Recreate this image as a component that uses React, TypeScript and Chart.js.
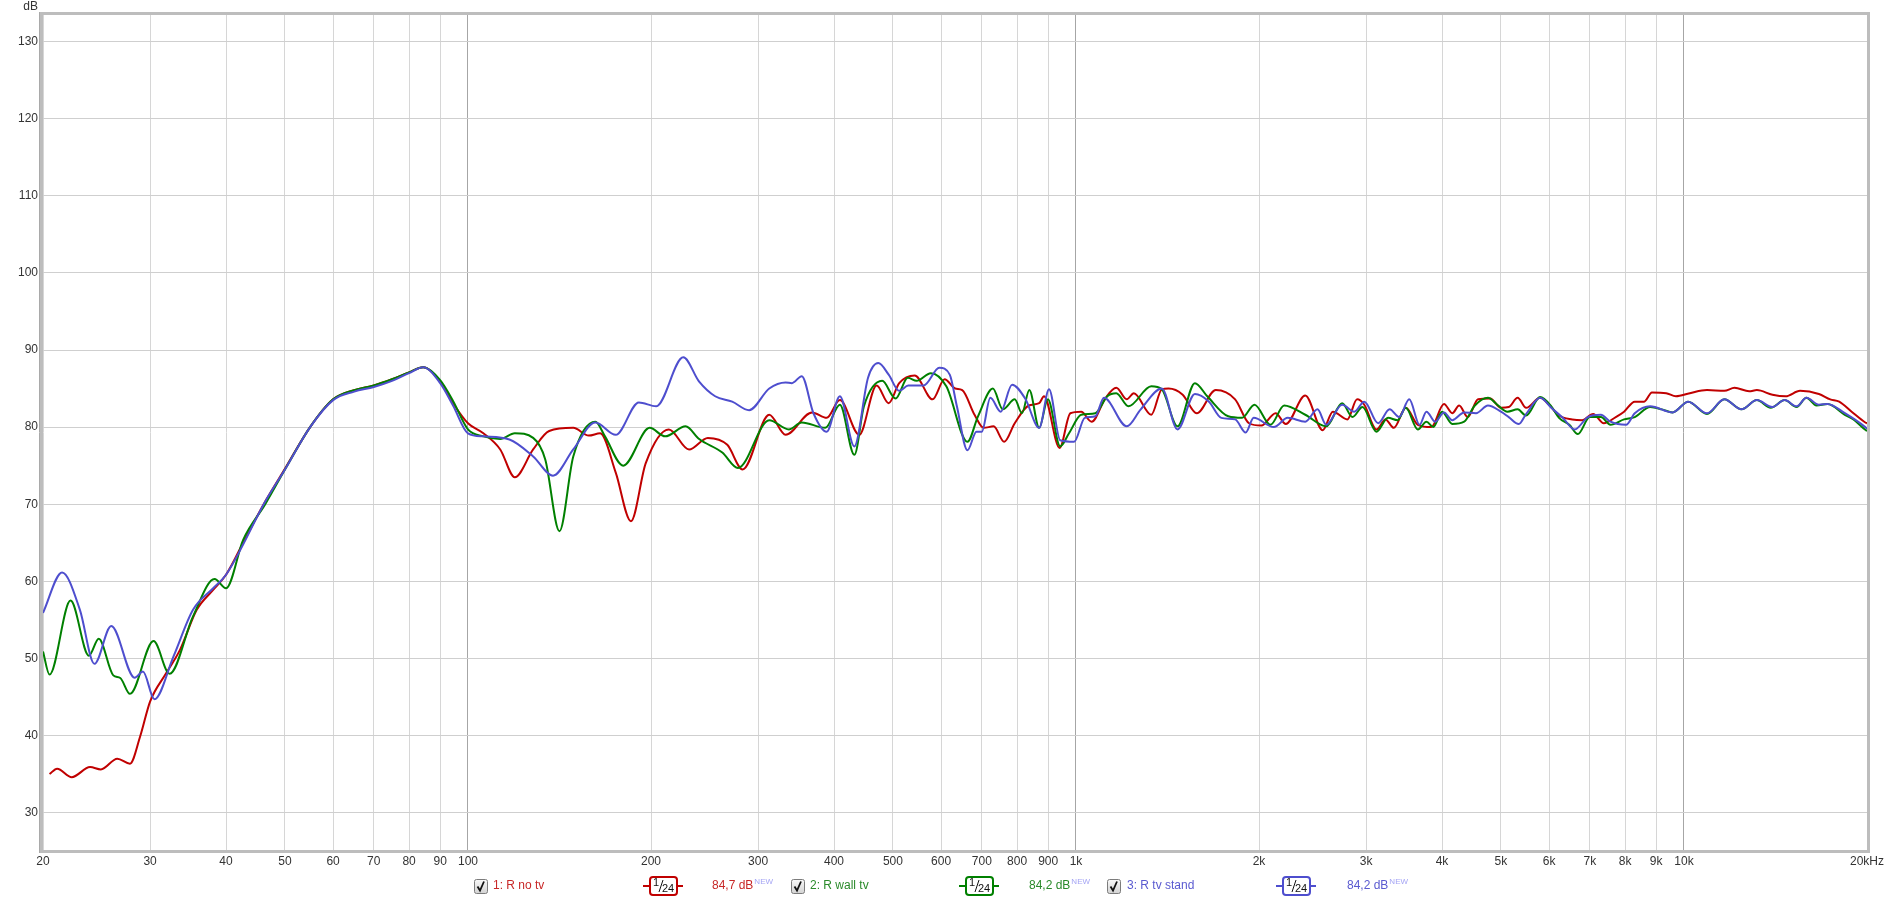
import React, { useEffect, useRef } from 'react';
import { Chart, registerables } from 'chart.js';

Chart.register(...registerables);

// [frequency Hz, level dB]
const redPoints: number[][] = [
  [20.5, 35.0], [21.1, 35.7], [22.3, 34.6], [23.9, 35.9], [24.9, 35.6], [26.5, 37.0], [27.8, 36.35], [28.9, 39.9],
  [30, 44.4], [31.9, 48.1], [33.6, 51.1], [35.8, 56.3], [38, 58.8], [40, 60.85], [43, 65.5], [46.6, 70.6],
  [50, 74.6], [55, 80.0], [60, 83.6], [65, 84.8], [70, 85.4], [75, 86.2], [80, 87.1], [84.4, 87.76],
  [90, 85.9], [94.5, 83.1], [100, 80.5], [106, 79.2], [113, 77.1], [119.4, 73.5], [128, 77.1], [136, 79.5],
  [149, 79.9], [158, 78.9], [165, 79.2], [175, 74.1], [185.4, 67.8], [196, 75.3], [214, 79.7], [231, 77.1],
  [248, 78.6], [267, 77.7], [283, 74.5], [313, 81.6], [333, 79.0], [368, 81.9], [389, 81.2], [409, 83.5],
  [440, 79.0], [470, 85.4], [492, 83.1], [512, 85.7], [543, 86.7], [581, 83.6], [608, 86.2], [633, 85.0],
  [650, 84.8], [681, 81.6], [705, 79.9], [732, 80.1], [762, 78.1], [793, 80.5], [836, 82.8], [870, 83.1],
  [886, 84.0], [940, 77.3], [979, 81.8], [1020, 82.0], [1061, 80.7], [1119, 83.8], [1165, 85.1], [1212, 83.6],
  [1245, 84.4], [1330, 81.6], [1384, 84.9], [1420, 85.0], [1498, 84.2], [1580, 81.8], [1698, 84.8], [1827, 83.6],
  [1926, 80.5], [2018, 80.2], [2130, 81.8], [2214, 80.4], [2383, 84.1], [2546, 79.6], [2646, 82.0], [2795, 81.0],
  [2900, 83.6], [2980, 82.9], [3120, 79.7], [3230, 81.0], [3332, 79.9], [3487, 82.5], [3650, 80.3], [3840, 80.0],
  [4030, 83.0], [4158, 81.8], [4268, 82.8], [4409, 81.3], [4585, 83.6], [4800, 83.7], [5000, 82.5], [5150, 82.6],
  [5327, 83.8], [5500, 82.5], [5800, 83.8], [6000, 82.9], [6230, 81.5], [6550, 81.0], [6800, 80.9], [7090, 81.7],
  [7380, 80.5], [7725, 81.3], [7970, 82.0], [8300, 83.3], [8600, 83.3], [8858, 84.5], [9350, 84.4], [9700, 84.0],
  [10224, 84.4], [10910, 84.8], [11650, 84.7], [12110, 85.1], [12800, 84.65], [13180, 84.8], [13980, 84.2], [14700, 84.0],
  [15520, 84.7], [16670, 84.3], [17400, 83.6], [18000, 83.3], [18870, 82.0], [19870, 80.6], [20000, 80.5],
];

const greenPoints: number[][] = [
  [20, 50.9], [20.5, 47.9], [22.2, 57.5], [23.8, 50.35], [24.7, 52.55], [26.1, 47.8], [26.8, 47.46], [27.8, 45.4],
  [30.4, 52.25], [32.3, 48.0], [35.3, 55.45], [38.3, 60.3], [40, 59.1], [42.7, 65.4], [46.4, 70.0], [50, 74.5],
  [55, 80.0], [60, 83.6], [65, 84.8], [70, 85.4], [75, 86.2], [80, 87.1], [84.4, 87.76], [90, 86.1],
  [94.5, 83.4], [100, 79.7], [106, 78.8], [113, 78.45], [119.4, 79.2], [128, 78.6], [134, 75.8], [141.4, 66.5],
  [149, 76.2], [162, 80.7], [168, 78.8], [180, 75.0], [199, 79.9], [211, 78.8], [228, 80.1], [240, 78.45],
  [262, 76.7], [278, 74.7], [313, 80.9], [337, 79.7], [354, 80.6], [387, 79.9], [409, 82.9], [432, 76.4],
  [448, 82.7], [480, 86.0], [505, 83.7], [529, 86.4], [547, 86.0], [577, 87.0], [612, 85.3], [663, 78.1],
  [690, 81.4], [730, 85.0], [758, 82.3], [793, 83.6], [815, 81.8], [838, 84.8], [870, 79.9], [899, 83.6],
  [942, 77.5], [974, 79.2], [1020, 81.6], [1076, 81.8], [1126, 84.0], [1165, 84.4], [1220, 82.7], [1330, 85.3],
  [1384, 84.9], [1469, 80.1], [1569, 85.7], [1644, 84.0], [1780, 81.4], [1876, 81.2], [1966, 82.9], [2089, 80.3],
  [2200, 82.8], [2383, 81.6], [2580, 80.1], [2740, 83.1], [2850, 81.3], [2960, 82.6], [3120, 79.4], [3260, 81.2],
  [3380, 80.9], [3487, 82.5], [3650, 79.7], [3771, 80.7], [3870, 80.0], [4000, 82.0], [4158, 80.4], [4350, 80.7],
  [4530, 82.8], [4760, 83.8], [4930, 82.9], [5124, 82.0], [5327, 82.3], [5500, 81.5], [5800, 83.9], [6050, 82.7],
  [6230, 81.2], [6478, 80.3], [6690, 79.1], [7000, 81.3], [7300, 81.3], [7570, 80.3], [7970, 81.0], [8300, 81.3],
  [8800, 82.6], [9200, 82.3], [9580, 81.9], [10160, 83.3], [10910, 81.7], [11650, 83.6], [12430, 82.3], [13180, 83.5],
  [13890, 82.5], [14640, 83.5], [15320, 82.6], [15900, 83.8], [16520, 82.8], [17220, 83.0], [18390, 81.6], [19000, 81.0],
  [19870, 79.65], [20000, 79.5],
];

const bluePoints: number[][] = [
  [20, 55.9], [21.5, 61.15], [23.0, 56.3], [24.3, 49.3], [25.9, 54.2], [28.3, 47.5], [29.2, 48.3], [30.5, 44.7],
  [32.8, 50.3], [35.3, 56.3], [38.1, 59.1], [40, 60.85], [46.6, 70.6], [50, 74.5], [55, 80.0], [60, 83.5],
  [65, 84.6], [70, 85.2], [75, 86.0], [80, 87.0], [84.4, 87.76], [90, 85.7], [94.5, 82.8], [100, 79.2],
  [106, 78.8], [117, 78.4], [128, 76.2], [138, 73.7], [149, 77.1], [162, 80.6], [175, 79.0], [191, 83.2],
  [204, 82.7], [226, 89.05], [240, 85.9], [255, 84.0], [272, 83.3], [290, 82.2], [313, 85.0], [333, 85.8],
  [341, 85.7], [354, 86.6], [370, 81.8], [389, 79.4], [409, 84.0], [432, 77.5], [455, 86.4], [473, 88.3],
  [492, 86.8], [512, 84.7], [530, 85.4], [562, 85.4], [596, 87.7], [620, 86.8], [637, 82.7], [663, 77.0],
  [686, 79.4], [700, 79.4], [723, 83.8], [752, 82.0], [785, 85.5], [825, 83.7], [870, 79.9], [903, 84.9],
  [942, 78.3], [993, 78.1], [1034, 81.2], [1076, 81.4], [1112, 83.8], [1212, 80.1], [1278, 82.3], [1384, 85.0],
  [1469, 79.7], [1569, 84.3], [1655, 83.3], [1734, 81.2], [1827, 81.0], [1902, 79.3], [1960, 81.2], [2115, 80.0],
  [2230, 81.2], [2383, 80.7], [2496, 82.3], [2580, 80.3], [2740, 82.9], [2870, 82.0], [2980, 83.3], [3140, 80.5],
  [3280, 82.3], [3400, 81.3], [3533, 83.6], [3673, 80.3], [3771, 82.0], [3900, 80.7], [4030, 81.9], [4158, 80.9],
  [4350, 81.9], [4550, 81.8], [4760, 82.8], [5000, 82.0], [5150, 81.3], [5350, 80.4], [5500, 81.7], [5800, 83.8],
  [6050, 82.5], [6320, 81.2], [6610, 79.7], [6950, 81.3], [7300, 81.6], [7570, 80.7], [8030, 80.3], [8300, 81.8],
  [8800, 82.7], [9580, 81.9], [10160, 83.3], [10910, 81.8], [11650, 83.6], [12430, 82.3], [13180, 83.5], [13980, 82.6],
  [14640, 83.5], [15320, 82.7], [15900, 83.8], [16670, 82.9], [17220, 83.0], [18390, 81.8], [19870, 80.0], [20000, 79.8],
];

const xTickValues = [20, 30, 40, 50, 60, 70, 80, 90, 100, 200, 300, 400, 500, 600, 700, 800, 900,
  1000, 2000, 3000, 4000, 5000, 6000, 7000, 8000, 9000, 10000, 20000];
const xTickLabels = ['20', '30', '40', '50', '60', '70', '80', '90', '100', '200', '300', '400', '500', '600', '700', '800', '900',
  '1k', '2k', '3k', '4k', '5k', '6k', '7k', '8k', '9k', '10k', '20kHz'];
const majorFreqs = [100, 1000, 10000];
const yTickValues = [30, 40, 50, 60, 70, 80, 90, 100, 110, 120, 130];
const yUnit = 'dB';

const seriesNames = ['1: R no tv', '2: R wall tv', '3: R tv stand'];
const seriesLevels = ['84,7 dB', '84,2 dB', '84,2 dB'];
const smoothingNum = '1';
const smoothingDen = '24';
const newTag = 'NEW';

const lineColors = ['rgb(192,0,0)', 'rgb(0,128,0)', 'rgb(78,78,206)'];
const textColors = ['#c82828', '#2a8a2a', '#5a5ad0'];

const FONT = '"Liberation Sans", Arial, sans-serif';

function drawCheckbox(ctx: CanvasRenderingContext2D, x: number, y: number) {
  const g = ctx.createLinearGradient(0, y, 0, y + 14);
  g.addColorStop(0, '#fafafa');
  g.addColorStop(1, '#d4d4d4');
  ctx.fillStyle = g;
  ctx.beginPath();
  ctx.roundRect(x + 0.5, y + 0.5, 13, 14, 2);
  ctx.fill();
  ctx.strokeStyle = '#7c7c7c';
  ctx.lineWidth = 1;
  ctx.stroke();
  ctx.strokeStyle = '#111';
  ctx.lineWidth = 1.8;
  ctx.beginPath();
  ctx.moveTo(x + 3.5, y + 7.5);
  ctx.lineTo(x + 6, y + 11.5);
  ctx.lineTo(x + 10, y + 2.5);
  ctx.stroke();
}

function drawSmoothBox(ctx: CanvasRenderingContext2D, x: number, cy: number, color: string) {
  ctx.strokeStyle = color;
  ctx.lineWidth = 2;
  ctx.beginPath();
  ctx.moveTo(x - 7, cy);
  ctx.lineTo(x, cy);
  ctx.moveTo(x + 27, cy);
  ctx.lineTo(x + 33, cy);
  ctx.stroke();
  ctx.fillStyle = '#fff';
  ctx.beginPath();
  ctx.roundRect(x, cy - 9, 27, 18, 3);
  ctx.fill();
  ctx.stroke();
  ctx.fillStyle = '#111';
  ctx.textAlign = 'left';
  ctx.textBaseline = 'middle';
  ctx.font = `11px ${FONT}`;
  ctx.fillText(smoothingNum, x + 3, cy - 3);
  ctx.strokeStyle = '#111';
  ctx.lineWidth = 1;
  ctx.beginPath();
  ctx.moveTo(x + 9, cy + 6);
  ctx.lineTo(x + 13, cy - 6);
  ctx.stroke();
  ctx.fillText(smoothingDen, x + 12, cy + 3);
}

const decorPlugin = {
  id: 'decor',
  afterDraw(chart: any) {
    const ctx: CanvasRenderingContext2D = chart.ctx;
    const a = chart.chartArea;
    ctx.save();
    // frame
    ctx.strokeStyle = '#bdbdbd';
    ctx.lineWidth = 3;
    ctx.strokeRect(a.left - 1.5, a.top - 1.5, a.right - a.left + 3, a.bottom - a.top + 3);
    ctx.strokeStyle = '#a9a9a9';
    ctx.lineWidth = 1;
    ctx.beginPath();
    ctx.moveTo(a.left - 3.5, a.top - 3);
    ctx.lineTo(a.left - 3.5, a.bottom + 3);
    ctx.stroke();
    // unit label
    ctx.fillStyle = '#333';
    ctx.font = `12px ${FONT}`;
    ctx.textAlign = 'right';
    ctx.textBaseline = 'middle';
    ctx.fillText(yUnit, 38, 7);
    // legend
    const cy = 886;
    const checkX = [474, 791, 1107];
    const nameX = [493, 810, 1127];
    const boxX = [650, 966, 1283];
    const levelX = [712, 1029, 1347];
    for (let i = 0; i < seriesNames.length; i++) {
      drawCheckbox(ctx, checkX[i], cy - 7);
      ctx.font = `12px ${FONT}`;
      ctx.textAlign = 'left';
      ctx.textBaseline = 'middle';
      ctx.fillStyle = textColors[i];
      ctx.fillText(seriesNames[i], nameX[i], cy);
      drawSmoothBox(ctx, boxX[i], cy, lineColors[i]);
      ctx.font = `12px ${FONT}`;
      ctx.textAlign = 'left';
      ctx.textBaseline = 'middle';
      ctx.fillStyle = textColors[i];
      ctx.fillText(seriesLevels[i], levelX[i], cy);
      const w = ctx.measureText(seriesLevels[i]).width;
      ctx.font = `8px ${FONT}`;
      ctx.fillStyle = '#a4a4f4';
      ctx.fillText(newTag, levelX[i] + w + 1, cy - 4);
    }
    ctx.restore();
  },
};

export default function App() {
  const canvasRef = useRef<HTMLCanvasElement | null>(null);

  useEffect(() => {
    document.body.style.margin = '0';
    const canvas = canvasRef.current;
    if (!canvas) return;
    const toData = (pts: number[][]) => pts.map((p) => ({ x: p[0], y: p[1] }));
    const chart = new Chart(canvas, {
      type: 'line',
      data: {
        datasets: [
          { label: seriesNames[2], data: toData(bluePoints), borderColor: lineColors[2], order: 0 },
          { label: seriesNames[1], data: toData(greenPoints), borderColor: lineColors[1], order: 1 },
          { label: seriesNames[0], data: toData(redPoints), borderColor: lineColors[0], order: 2 },
        ].map((d) => ({
          ...d,
          borderWidth: 2,
          pointRadius: 0,
          fill: false,
          cubicInterpolationMode: 'monotone' as const,
        })),
      },
      options: {
        responsive: false,
        animation: false,
        devicePixelRatio: 1,
        parsing: true,
        layout: { padding: { left: 0, right: 22, top: 15, bottom: 0 } },
        plugins: {
          legend: { display: false },
          tooltip: { enabled: false },
        },
        scales: {
          x: {
            type: 'logarithmic',
            min: 20,
            max: 20000,
            afterBuildTicks: (scale: any) => {
              scale.ticks = xTickValues.map((v) => ({ value: v }));
            },
            afterFit: (scale: any) => {
              scale.height = 50;
            },
            ticks: {
              autoSkip: false,
              maxRotation: 0,
              minRotation: 0,
              padding: 4,
              color: '#333',
              font: { family: FONT, size: 12 },
              callback: (value: any) => {
                const i = xTickValues.indexOf(Number(value));
                return i >= 0 ? xTickLabels[i] : '';
              },
            },
            grid: {
              drawTicks: false,
              lineWidth: 1,
              color: (c: any) => (c.tick && majorFreqs.includes(c.tick.value) ? '#a6a6a6' : '#d6d6d6'),
            },
            border: { display: false },
          },
          y: {
            type: 'linear',
            min: 25.15,
            max: 133.45,
            afterBuildTicks: (scale: any) => {
              scale.ticks = yTickValues.map((v) => ({ value: v }));
            },
            afterFit: (scale: any) => {
              scale.width = 43;
            },
            ticks: {
              padding: 5,
              color: '#333',
              font: { family: FONT, size: 12 },
              callback: (value: any) => String(value),
            },
            grid: { drawTicks: false, color: '#cfcfcf', lineWidth: 1 },
            border: { display: false },
          },
        },
      },
      plugins: [decorPlugin],
    } as any);
    return () => chart.destroy();
  }, []);

  return (
    <div style={{ position: 'fixed', left: 0, top: 0, width: 1889, height: 900, background: '#fff' }}>
      <canvas ref={canvasRef} width={1889} height={900} style={{ width: 1889, height: 900, display: 'block' }} />
    </div>
  );
}
